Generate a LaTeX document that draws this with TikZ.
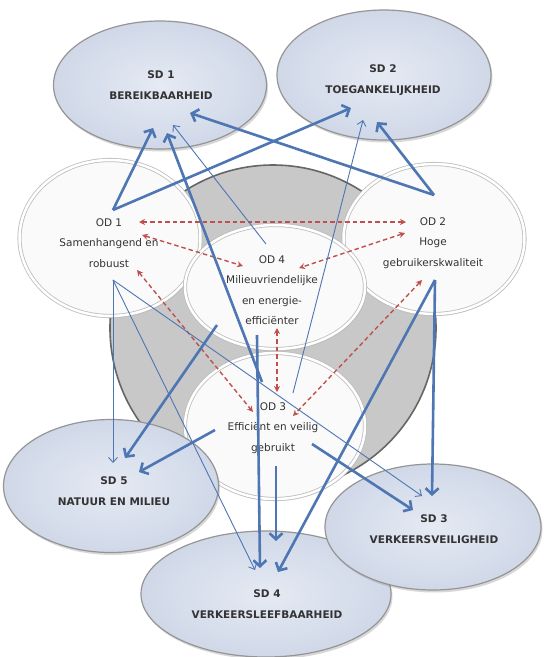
\documentclass[tikz,border=0pt]{standalone}
\usepackage{fontspec}
\setmainfont{DejaVu Sans}
\usetikzlibrary{shapes.geometric,arrows.meta,shadows}
\definecolor{sdin}{HTML}{E5EAF3}
\definecolor{sdout}{HTML}{D0D8E8}
\definecolor{sdline}{HTML}{959595}
\definecolor{odline}{HTML}{BDBDBD}
\definecolor{odfill}{HTML}{FAFAFA}
\definecolor{ringfill}{HTML}{C8C8C8}
\definecolor{ringline}{HTML}{666666}
\definecolor{blu}{HTML}{4D76B3}
\definecolor{rdd}{HTML}{C0504D}
\definecolor{txt}{HTML}{333333}
\begin{document}
\begin{tikzpicture}[x=1pt,y=-1pt,
  sdshape/.style={ellipse, inner sep=0pt, draw=sdline, line width=1.2pt,
    inner color=sdin, outer color=sdout,
    drop shadow={opacity=0.3,shadow xshift=1.5pt,shadow yshift=-2.5pt}},
  odshape/.style={ellipse, inner sep=0pt, draw=odline, line width=0.8pt,
    double=white, double distance=2.5pt, fill=odfill,
    drop shadow={opacity=0.2,shadow xshift=1pt,shadow yshift=-2pt}},
  ringshape/.style={circle, inner sep=0pt, draw=ringline, line width=1.6pt, fill=ringfill},
  sdtext/.style={font=\bfseries\fontsize{10.5}{20.5}\selectfont, text=txt, align=center, inner sep=0pt},
  odtext/.style={font=\fontsize{10.5}{20.5}\selectfont, text=txt, align=center, inner sep=0pt},
  bthick/.style={draw=blu, line width=2.6pt, -{Straight Barb[length=6pt,width=13pt]}},
  bthin/.style={draw=blu, line width=0.9pt, -{Straight Barb[length=5pt,width=9pt]}},
  rdash/.style={draw=rdd, line width=1.4pt, dash pattern=on 4.5pt off 3pt,
    {Stealth[length=6pt,width=6pt]}-{Stealth[length=6pt,width=6pt]}}
]
\useasboundingbox (0,0) rectangle (544,657);
\fill[white] (0,0) rectangle (544,657);

% gray ring
\node[ringshape, minimum size=326pt] (ring) at (273,328) {};

% OD ellipses
\node[odshape, minimum width=181pt, minimum height=156pt] (od1) at (110,238) {};
\node[odshape, minimum width=181pt, minimum height=150pt] (od2) at (434,239) {};
\node[odshape, minimum width=180pt, minimum height=124pt] (od4) at (275,287) {};
\node[odshape, minimum width=180pt, minimum height=146pt] (od3) at (275,426) {};

% SD ellipses
\node[sdshape, minimum width=213pt, minimum height=128pt] (sd1) at (160,85) {};
\node[sdshape, minimum width=214pt, minimum height=130pt] (sd2) at (384,75) {};
\node[sdshape, minimum width=215pt, minimum height=133pt] (sd5) at (111,486) {};
\node[sdshape, minimum width=250pt, minimum height=126pt] (sd4) at (266,594) {};
\node[sdshape, minimum width=216pt, minimum height=126pt] (sd3) at (433,527) {};

% texts
\node[sdtext] (sd1t) at (161,85) {SD 1\\BEREIKBAARHEID};
\node[sdtext] (sd2t) at (383,80) {SD 2\\TOEGANKELIJKHEID};
\node[sdtext] (sd5t) at (114,491) {SD 5\\NATUUR EN MILIEU};
\node[sdtext] (sd3t) at (434,529) {SD 3\\VERKEERSVEILIGHEID};
\node[sdtext] (sd4t) at (267,604) {SD 4\\VERKEERSLEEFBAARHEID};
\node[odtext] (od1t) at (109,243) {OD 1\\Samenhangend en\\robuust};
\node[odtext] (od2t) at (433,243) {OD 2\\Hoge\\gebruikerskwaliteit};
\node[odtext] (od4t) at (272,290) {OD 4\\Milieuvriendelijke\\en energie-\\efficiënter};
\node[odtext] (od3t) at (273,428) {OD 3\\Efficiënt en veilig\\gebruikt};

% anchor points
\coordinate (od1u) at (113,210); \coordinate (od1d) at (113,280);
\coordinate (od2u) at (434,195); \coordinate (od2d) at (435,280);
\coordinate (sd1a) at (153,128); \coordinate (sd1b) at (167,133);
\coordinate (sd1c) at (173,125); \coordinate (sd1d) at (190,113);
\coordinate (sd2a) at (351,108); \coordinate (sd2b) at (363,120); \coordinate (sd2c) at (377,122);
\coordinate (od3a) at (262,382); \coordinate (od3b) at (293,393); \coordinate (od3c) at (215,430);
\coordinate (od3d) at (312,444); \coordinate (od3e) at (276,466);
\coordinate (od4a) at (257,335); \coordinate (od4b) at (217,325); \coordinate (od4c) at (266,244);
\coordinate (sd4a) at (255,570); \coordinate (sd4b) at (260,568);
\coordinate (sd4c) at (276,541); \coordinate (sd4d) at (278,572);
\coordinate (sd5a) at (113,463); \coordinate (sd5b) at (125,458); \coordinate (sd5c) at (139,472);
\coordinate (sd3a) at (422,496); \coordinate (sd3b) at (413,510); \coordinate (sd3c) at (432,496);

% red dashed relations
\coordinate (r1a) at (139,222); \coordinate (r1b) at (406,222);
\coordinate (r2a) at (142,235); \coordinate (r2b) at (243,266);
\coordinate (r3a) at (405,233); \coordinate (r3b) at (299,268);
\coordinate (r4a) at (277,328); \coordinate (r4b) at (277,392);
\coordinate (r5a) at (137,270); \coordinate (r5b) at (253,412);
\coordinate (r6a) at (422,280); \coordinate (r6b) at (293,416);
\draw[rdash] (r1a) -- (r1b);
\draw[rdash] (r2a) -- (r2b);
\draw[rdash] (r3a) -- (r3b);
\draw[rdash] (r4a) -- (r4b);
\draw[rdash] (r5a) -- (r5b);
\draw[rdash] (r6a) -- (r6b);

% thin blue arrows
\draw[bthin] (od4c) -- (sd1c);
\draw[bthin] (od3b) -- (sd2b);
\draw[bthin] (od1d) -- (sd5a);
\draw[bthin] (od1d) -- (sd4a);
\draw[bthin] (od1d) -- (sd3a);

% thick blue arrows
\draw[bthick] (od1u) -- (sd1a);
\draw[bthick] (od1u) -- (sd2a);
\draw[bthick] (od2u) -- (sd1d);
\draw[bthick] (od2u) -- (sd2c);
\draw[bthick] (od3a) -- (sd1b);
\draw[bthick] (od4a) -- (sd4b);
\draw[bthick] (od4b) -- (sd5b);
\draw[bthick] (od3c) -- (sd5c);
\draw[bthick] (od3d) -- (sd3b);
\draw[bthick] (od3e) -- (sd4c);
\draw[bthick] (od2d) -- (sd3c);
\draw[bthick] (od2d) -- (sd4d);
\end{tikzpicture}
\end{document}
